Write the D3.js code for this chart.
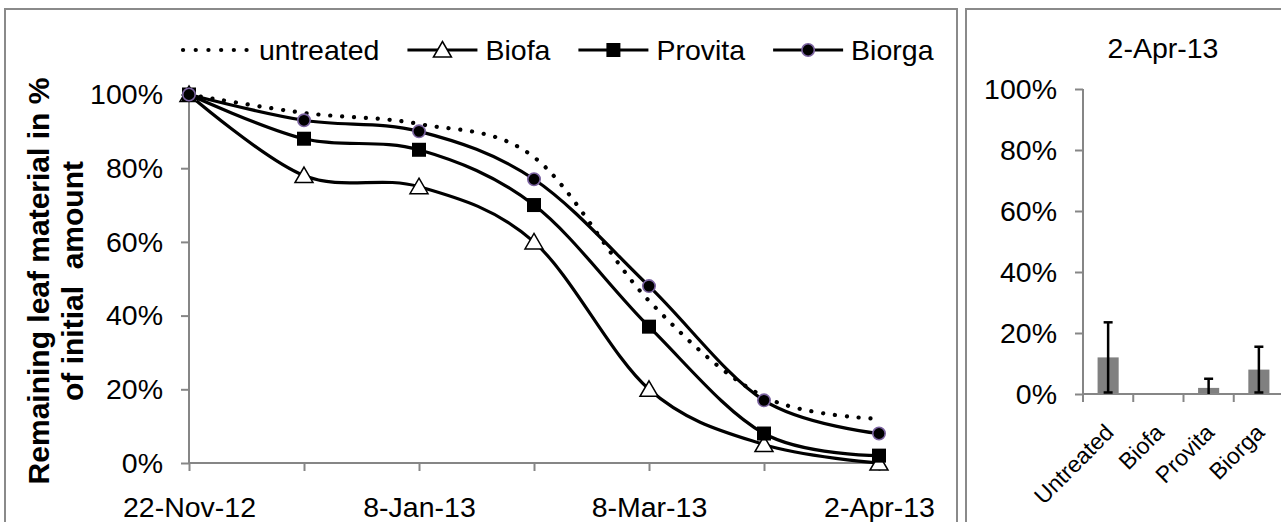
<!DOCTYPE html>
<html>
<head>
<meta charset="utf-8">
<script src="https://cdn.jsdelivr.net/npm/d3@7"></script>
<style>
  html, body { margin: 0; padding: 0; background: #fff; }
  svg { display: block; }
  text { font-family: "Liberation Sans", Arial, sans-serif; fill: #000; }
</style>
</head>
<body>
<svg id="chart" width="1281" height="522"></svg>
<script>
// ---------- data ----------
const timeIndex = [0, 1, 2, 3, 4, 5, 6];
const timeLabels = ["22-Nov-12", "", "8-Jan-13", "", "8-Mar-13", "", "2-Apr-13"];
const seriesNames = ["untreated", "Biofa", "Provita", "Biorga"];
const untreated = [100, 95, 92, 83, 44, 18, 12];
const biofa     = [100, 78, 75, 60, 20, 5, 0];
const provita   = [100, 88, 85, 70, 37, 8, 2];
const biorga    = [100, 93, 90, 77, 48, 17, 8];
const yTicks = [0, 20, 40, 60, 80, 100];

const barTitle = "2-Apr-13";
const barCategories = ["Untreated", "Biofa", "Provita", "Biorga"];
const barValues = [12, 0, 2, 8];
const barErrors = [11.5, 0, 3, 7.5];

// ---------- setup ----------
const svg = d3.select("#chart");
const AXIS = "#868686";
const FONT = 28.5;

svg.append("rect").attr("width", 1281).attr("height", 522).attr("fill", "#fff");

// panel borders
svg.append("rect").attr("x", 5).attr("y", 9).attr("width", 952).attr("height", 530)
  .attr("fill", "none").attr("stroke", "#8a8a8a").attr("stroke-width", 2);
svg.append("rect").attr("x", 966).attr("y", 9).attr("width", 340).attr("height", 530)
  .attr("fill", "none").attr("stroke", "#8a8a8a").attr("stroke-width", 2);

// ---------- left: line chart ----------
const x = d3.scalePoint().domain(timeIndex).range([189, 879]);
const y = d3.scaleLinear().domain([0, 100]).range([463, 94.5]);

const yAxis = d3.axisLeft(y).tickValues(yTicks).tickSize(8).tickPadding(18)
  .tickFormat(d => d + "%");
const gy = svg.append("g").attr("transform", `translate(${x(0)},0)`).call(yAxis);
gy.selectAll("text").style("font-size", FONT + "px");

const xAxis = d3.axisBottom(x).tickSize(8).tickPadding(26)
  .tickFormat(i => timeLabels[i]);
const gx = svg.append("g").attr("transform", `translate(0,${y(0)})`).call(xAxis);
gx.selectAll("text").style("font-size", FONT + "px");

[gy, gx].forEach(g => {
  g.select(".domain").attr("stroke", AXIS).attr("stroke-width", 2);
  g.selectAll(".tick line").attr("stroke", AXIS).attr("stroke-width", 2);
});
gx.select(".domain").attr("d", `M${x(0)},0H${x(6)}`);
gy.select(".domain").attr("d", `M0,${y(0)}V${y(100)}`);

// y axis title
const yt = svg.append("g").attr("transform", "translate(0,281)");
yt.append("text").attr("transform", "translate(49,0) rotate(-90)")
  .attr("text-anchor", "middle").style("font-size", "30px").style("font-weight", "bold")
  .text("Remaining leaf material in %");
yt.append("text").attr("transform", "translate(83,0) rotate(-90)")
  .attr("text-anchor", "middle").style("font-size", "30px").style("font-weight", "bold")
  .attr("xml:space", "preserve").style("white-space", "pre")
  .text("of initial  amount");

const line = d3.line().x((d, i) => x(timeIndex[i])).y(d => y(d))
  .curve(d3.curveCardinal.tension(0));

const seriesData = [untreated, biofa, provita, biorga];
const markerType = ["none", "triangle", "square", "circle"];

function drawMarker(g, type, cx, cy) {
  if (type === "triangle") {
    g.append("path")
      .attr("d", `M${cx},${cy - 8.5}L${cx + 9},${cy + 7}L${cx - 9},${cy + 7}Z`)
      .attr("fill", "#fff").attr("stroke", "#000").attr("stroke-width", 1.5);
  } else if (type === "square") {
    g.append("rect").attr("x", cx - 7).attr("y", cy - 7).attr("width", 14).attr("height", 14)
      .attr("fill", "#000");
  } else if (type === "circle") {
    g.append("circle").attr("cx", cx).attr("cy", cy).attr("r", 6.2)
      .attr("fill", "#000").attr("stroke", "#7b63a0").attr("stroke-width", 1.6);
  }
}

seriesData.forEach((vals, si) => {
  const g = svg.append("g");
  const p = g.append("path").attr("d", line(vals)).attr("fill", "none")
    .attr("stroke", "#000");
  if (si === 0) {
    p.attr("stroke-width", 4.2).attr("stroke-dasharray", "0.1 11.8").attr("stroke-linecap", "round");
  } else {
    p.attr("stroke-width", 3.2);
  }
  vals.forEach((v, i) => drawMarker(g, markerType[si], x(timeIndex[i]), y(v)));
});

// legend
const legend = svg.append("g");
let lx = 181;
const ly = 50;
seriesNames.forEach((name, si) => {
  const g = legend.append("g");
  const l = g.append("line").attr("x1", lx).attr("x2", lx + 70).attr("y1", ly).attr("y2", ly)
    .attr("stroke", "#000");
  if (si === 0) {
    l.attr("x1", lx + 2).attr("x2", lx + 68)
     .attr("stroke-width", 4.2).attr("stroke-dasharray", "0.1 12.6").attr("stroke-linecap", "round");
  } else {
    l.attr("stroke-width", 3.2);
  }
  drawMarker(g, markerType[si], lx + 35, ly);
  const t = g.append("text").attr("x", lx + 78).attr("y", ly + 10)
    .style("font-size", FONT + "px").text(name);
  lx = lx + 78 + t.node().getComputedTextLength() + 28;
});

// ---------- right: bar chart ----------
const xb = d3.scaleBand().domain(barCategories).range([1083, 1284]);
const yb = d3.scaleLinear().domain([0, 100]).range([394, 89]);

const ybAxis = d3.axisLeft(yb).tickValues(yTicks).tickSize(8).tickPadding(18)
  .tickFormat(d => d + "%");
const gyb = svg.append("g").attr("transform", `translate(${xb.range()[0]},0)`).call(ybAxis);
gyb.selectAll("text").style("font-size", FONT + "px");
gyb.select(".domain").attr("stroke", AXIS).attr("stroke-width", 2)
  .attr("d", `M0,${yb(0)}V${yb(100)}`);
gyb.selectAll(".tick line").attr("stroke", AXIS).attr("stroke-width", 2);

const bw = xb.bandwidth() * 0.42;
svg.append("g").selectAll("rect").data(barCategories).join("rect")
  .attr("x", d => xb(d) + xb.bandwidth() / 2 - bw / 2)
  .attr("y", (d, i) => yb(barValues[i]))
  .attr("width", bw)
  .attr("height", (d, i) => yb(0) - yb(barValues[i]))
  .attr("fill", "#808080");

// x axis of bar chart (drawn after bars)
const gxb = svg.append("g");
gxb.append("line").attr("x1", xb.range()[0]).attr("x2", xb.range()[1] + 10)
  .attr("y1", yb(0)).attr("y2", yb(0)).attr("stroke", AXIS).attr("stroke-width", 2);
gxb.selectAll("line.tk").data(barCategories).join("line").attr("class", "tk")
  .attr("x1", d => xb(d)).attr("x2", d => xb(d))
  .attr("y1", yb(0)).attr("y2", yb(0) + 8).attr("stroke", AXIS).attr("stroke-width", 2);

// error bars
const eb = svg.append("g");
barCategories.forEach((c, i) => {
  if (barErrors[i] <= 0) return;
  const cx = xb(c) + xb.bandwidth() / 2;
  const top = yb(barValues[i] + barErrors[i]);
  const bot = yb(Math.max(0, barValues[i] - barErrors[i]));
  eb.append("line").attr("x1", cx).attr("x2", cx).attr("y1", top).attr("y2", bot)
    .attr("stroke", "#000").attr("stroke-width", 2.5);
  eb.append("line").attr("x1", cx - 4.5).attr("x2", cx + 4.5).attr("y1", top).attr("y2", top)
    .attr("stroke", "#000").attr("stroke-width", 2.5);
  if (barValues[i] - barErrors[i] > 0.2) {
    eb.append("line").attr("x1", cx - 4.5).attr("x2", cx + 4.5).attr("y1", bot).attr("y2", bot)
      .attr("stroke", "#000").attr("stroke-width", 2.5);
  }
});

// category labels
svg.append("g").selectAll("text").data(barCategories).join("text")
  .attr("transform", d => `translate(${xb(d) + xb.bandwidth() / 2 + 7},${yb(0) + 40}) rotate(-45)`)
  .attr("text-anchor", "end")
  .style("font-size", "23px")
  .text(d => d);

// title
svg.append("text").attr("x", 1163).attr("y", 58).attr("text-anchor", "middle")
  .style("font-size", FONT + "px").text(barTitle);
</script>
</body>
</html>
